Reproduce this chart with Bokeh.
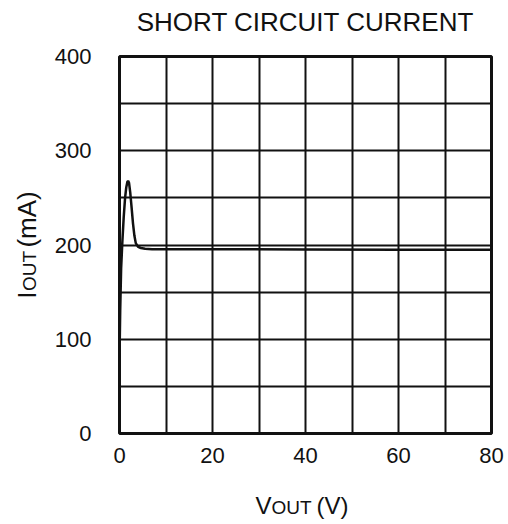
import math
from bokeh.plotting import figure
from bokeh.layouts import column, row
from bokeh.models import Range1d, FixedTicker
from bokeh.core.properties import value
from bokeh.embed import file_html
from bokeh.resources import INLINE

# ---- data ----
v_out = [0, 0.15, 0.35, 0.6, 0.9, 1.2, 1.45, 1.7, 1.85, 2.05, 2.3, 2.6, 2.9,
         3.2, 3.5, 4.0, 4.6, 5.5, 7, 10, 20, 40, 60, 80]
i_out = [80, 130, 175, 202, 229, 250, 261, 267, 268, 266, 256, 240, 223,
         210, 202, 198, 196.8, 196, 195.6, 195.5, 195.5, 195.2, 195, 195]

x_ticks = [0, 20, 40, 60, 80]
y_ticks = [0, 100, 200, 300, 400]
x_grid = [0, 10, 20, 30, 40, 50, 60, 70, 80]
y_grid = [0, 50, 100, 150, 200, 250, 300, 350, 400]

title_text = "SHORT CIRCUIT CURRENT"
x_label = ["V", "OUT", "(V)"]
y_label = ["I", "OUT", "(mA)"]

FONT = "Liberation Sans"
INK = "#111111"

# ---- layout sizes (pixels) ----
W = 508
TOP_H = 44
LEFT_W = 48
FW, FH = 372, 377
MB_L, MB_R, MB_T, MB_B = 71, 17, 12, 45
MAIN_H = MB_T + FH + MB_B
BOT_H = 524 - TOP_H - MAIN_H


def text_panel(w, h):
    f = figure(width=w, height=h, x_range=Range1d(0, w), y_range=Range1d(0, h),
               output_backend="svg", toolbar_location=None,
               x_axis_type=None, y_axis_type=None,
               min_border_left=0, min_border_right=0,
               min_border_top=0, min_border_bottom=0)
    f.outline_line_color = None
    f.background_fill_color = "white"
    f.border_fill_color = "white"
    f.xgrid.visible = False
    f.ygrid.visible = False
    return f


# ---- main chart ----
p = figure(frame_width=FW, frame_height=FH,
           x_range=Range1d(0, 80), y_range=Range1d(0, 400),
           output_backend="svg", toolbar_location=None,
           min_border_left=MB_L, min_border_right=MB_R,
           min_border_top=MB_T, min_border_bottom=MB_B)

p.background_fill_color = "white"
p.border_fill_color = "white"
p.outline_line_color = INK
p.outline_line_width = 3

for ax in (p.xaxis, p.yaxis):
    ax.axis_line_color = None
    ax.major_tick_line_color = None
    ax.minor_tick_line_color = None
    ax.major_label_text_font = FONT
    ax.major_label_text_font_size = "22px"
    ax.major_label_text_color = INK

p.xaxis.ticker = FixedTicker(ticks=x_ticks)
p.yaxis.ticker = FixedTicker(ticks=y_ticks)
p.xaxis.major_label_standoff = 8
p.yaxis.major_label_standoff = 22

p.xgrid.ticker = FixedTicker(ticks=x_grid)
p.ygrid.ticker = FixedTicker(ticks=y_grid)
for g in (p.xgrid, p.ygrid):
    g.grid_line_color = INK
    g.grid_line_width = 2
    g.grid_line_alpha = 1

p.line(v_out, i_out, line_color=INK, line_width=2.5)

# ---- title panel ----
top = text_panel(W, TOP_H)
top.text(x=[LEFT_W + MB_L + FW / 2], y=[23], text=[title_text],
         text_font=value(FONT), text_font_size=value("26px"), text_color=INK,
         text_align="center", text_baseline="alphabetic")

# ---- left panel: I_OUT (mA) rotated ----
left = text_panel(LEFT_W, MAIN_H)
left.text(x=[26, 26], y=[155, 214], text=[y_label[0], y_label[2]], angle=math.pi / 2,
          text_font=value(FONT), text_font_size=value("26px"), text_color=INK,
          text_align="left", text_baseline="alphabetic")
left.text(x=[28.5], y=[164], text=[y_label[1]], angle=math.pi / 2,
          text_font=value(FONT), text_font_size=value("19px"), text_color=INK,
          text_align="left", text_baseline="alphabetic")

# ---- bottom panel: V_OUT (V) ----
bot = text_panel(W, BOT_H)
bot.text(x=[255, 316], y=[19, 19], text=[x_label[0], x_label[2]],
         text_font=value(FONT), text_font_size=value("24px"), text_color=INK,
         text_align="left", text_baseline="alphabetic")
bot.text(x=[271], y=[17], text=[x_label[1]],
         text_font=value(FONT), text_font_size=value("19px"), text_color=INK,
         text_align="left", text_baseline="alphabetic")

layout = column(top, row(left, p), bot)
open("out.html", "w").write(file_html(layout, INLINE))
